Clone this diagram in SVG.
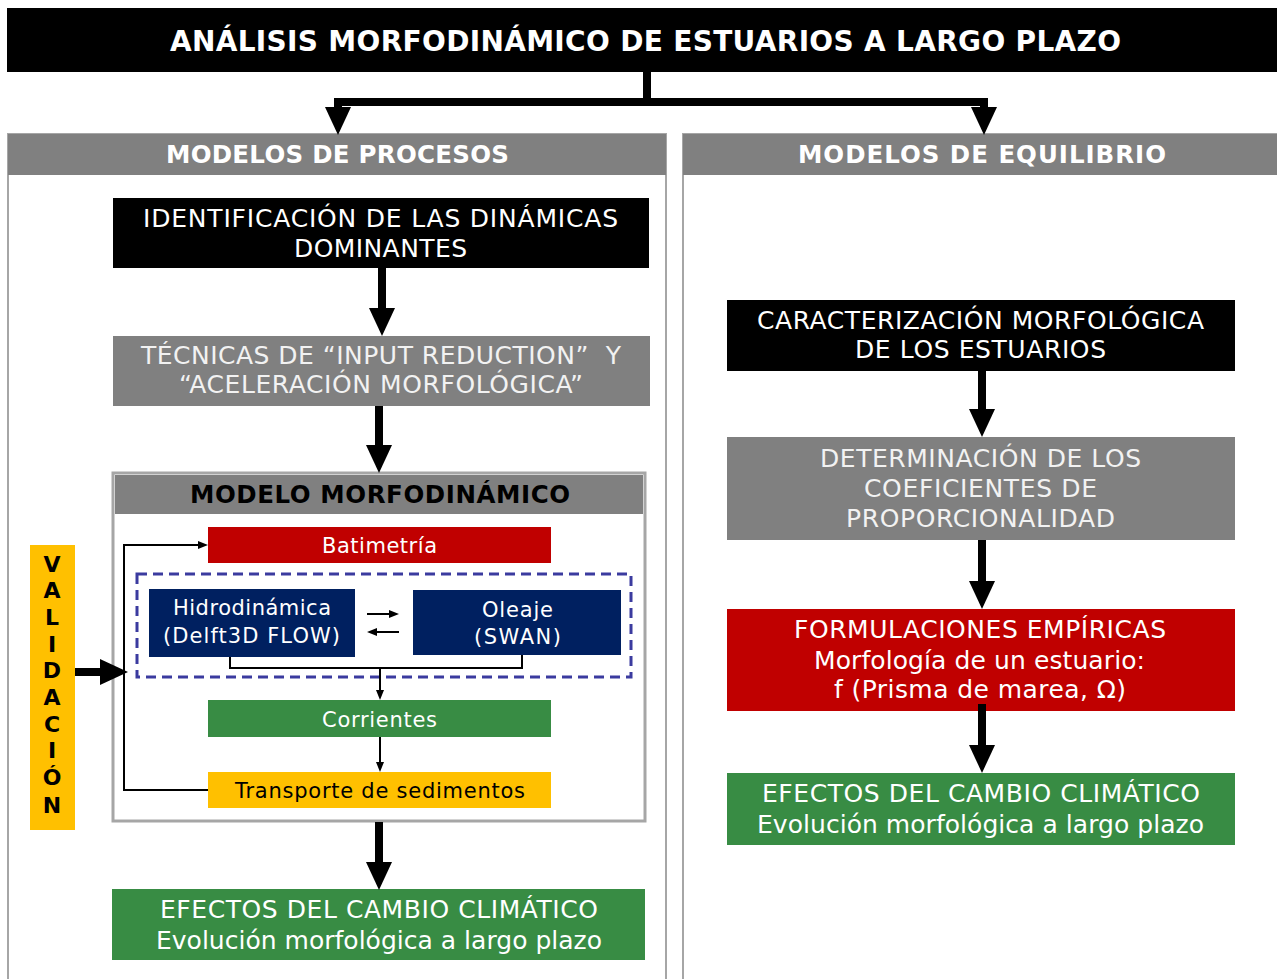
<svg xmlns="http://www.w3.org/2000/svg" width="1277" height="979" viewBox="0 0 1277 979">
<defs>
<style>
text{font-family:"DejaVu Sans","Verdana","Liberation Sans",sans-serif;text-anchor:middle}
.w{fill:#ffffff}
.lt{fill:#f2f2f2}
.k{fill:#000000}
.b{font-weight:bold}
.t24{font-size:25px}
.t20{font-size:21px}
.thick{stroke:#000;stroke-width:8;fill:none}
.thin{stroke:#000;stroke-width:2;fill:none}
</style>
<marker id="ah" viewBox="0 0 28 26" refX="0" refY="13" markerWidth="28" markerHeight="26" markerUnits="userSpaceOnUse" orient="auto">
<path d="M0,0 L28,13 L0,26 z" fill="#000"/>
</marker>
<marker id="as" viewBox="0 0 10 10" refX="0" refY="5" markerWidth="10" markerHeight="10" markerUnits="userSpaceOnUse" orient="auto">
<path d="M0,1 L10,5 L0,9 z" fill="#000"/>
</marker>
</defs>
<rect width="1277" height="979" fill="#ffffff"/>

<g id="title">
<rect x="7" y="8" width="1270" height="64" fill="#000"/>
<text x="645.5" y="51" class="w b" font-size="28" textLength="951" lengthAdjust="spacing">ANÁLISIS MORFODINÁMICO DE ESTUARIOS A LARGO PLAZO</text>
</g>

<g id="panel-procesos">
<rect x="8" y="134" width="658" height="860" fill="#fff" stroke="#a6a6a6" stroke-width="2"/>
<rect x="8" y="134" width="658" height="41" fill="#808080"/>
<text x="337.5" y="163" class="w b" font-size="24.5" textLength="343" lengthAdjust="spacing">MODELOS DE PROCESOS</text>
</g>

<g id="panel-equilibrio">
<rect x="683" y="134" width="610" height="860" fill="#fff" stroke="#a6a6a6" stroke-width="2"/>
<rect x="683" y="134" width="600" height="41" fill="#808080"/>
<text x="982" y="163" class="w b" font-size="24.5" textLength="368" lengthAdjust="spacing">MODELOS DE EQUILIBRIO</text>
</g>

<g id="identificacion">
<rect x="113" y="198" width="536" height="70" fill="#000"/>
<text x="380.5" y="227" class="w t24" textLength="475" lengthAdjust="spacing">IDENTIFICACIÓN DE LAS DINÁMICAS</text>
<text x="380.5" y="257" class="w t24" textLength="173" lengthAdjust="spacing">DOMINANTES</text>
</g>

<g id="tecnicas">
<rect x="113" y="336" width="537" height="70" fill="#808080"/>
<text x="381" y="364" class="lt t24" xml:space="preserve" textLength="480" lengthAdjust="spacing">TÉCNICAS DE “INPUT REDUCTION”  Y</text>
<text x="381" y="393" class="lt t24" textLength="404" lengthAdjust="spacing">“ACELERACIÓN MORFOLÓGICA”</text>
</g>

<g id="modelo-morfodinamico">
<rect x="113" y="473" width="532" height="348" fill="#fff" stroke="#a6a6a6" stroke-width="3"/>
<rect x="115" y="475" width="528" height="39" fill="#808080"/>
<text x="380" y="503" class="k b" font-size="24.5" textLength="380" lengthAdjust="spacing">MODELO MORFODINÁMICO</text>
</g>

<g id="batimetria">
<rect x="208" y="527" width="343" height="36" fill="#c00000"/>
<text x="379.5" y="553" class="w t20" textLength="115" lengthAdjust="spacing">Batimetría</text>
</g>

<g id="acoplamiento">
<rect x="137" y="574" width="494" height="103" fill="none" stroke="#3b3b9f" stroke-width="3" stroke-dasharray="10,6"/>
</g>

<g id="hidrodinamica">
<rect x="149" y="589" width="206" height="68" fill="#002060"/>
<text x="252" y="615" class="w t20" textLength="158" lengthAdjust="spacing">Hidrodinámica</text>
<text x="251.5" y="643" class="w t20" textLength="177" lengthAdjust="spacing">(Delft3D FLOW)</text>
</g>

<g id="oleaje">
<rect x="413" y="590" width="208" height="65" fill="#002060"/>
<text x="517.5" y="617" class="w t20" textLength="71" lengthAdjust="spacing">Oleaje</text>
<text x="517.5" y="644" class="w t20" textLength="87" lengthAdjust="spacing">(SWAN)</text>
</g>

<g id="corrientes">
<rect x="208" y="700" width="343" height="37" fill="#388c44"/>
<text x="379.5" y="727" class="w t20" textLength="115" lengthAdjust="spacing">Corrientes</text>
</g>

<g id="transporte">
<rect x="208" y="772" width="343" height="36" fill="#ffc000"/>
<text x="380" y="798" class="k t20" textLength="290" lengthAdjust="spacing">Transporte de sedimentos</text>
</g>

<g id="validacion">
<rect x="30" y="545" width="45" height="285" fill="#ffc000"/>
<g class="k b" font-size="22">
<text x="52" y="572">V</text>
<text x="52" y="598">A</text>
<text x="52" y="625">L</text>
<text x="52" y="652">I</text>
<text x="52" y="678">D</text>
<text x="52" y="705">A</text>
<text x="52" y="732">C</text>
<text x="52" y="758">I</text>
<text x="52" y="785">Ó</text>
<text x="52" y="813">N</text>
</g>
</g>

<g id="efectos-procesos">
<rect x="112" y="889" width="533" height="71" fill="#388c44"/>
<text x="379" y="918" class="w t24" textLength="438" lengthAdjust="spacing">EFECTOS DEL CAMBIO CLIMÁTICO</text>
<text x="379" y="949" class="w t24" textLength="446" lengthAdjust="spacing">Evolución morfológica a largo plazo</text>
</g>

<g id="caracterizacion">
<rect x="727" y="300" width="508" height="71" fill="#000"/>
<text x="980.5" y="329" class="w t24" textLength="447" lengthAdjust="spacing">CARACTERIZACIÓN MORFOLÓGICA</text>
<text x="980.5" y="358" class="w t24" textLength="251" lengthAdjust="spacing">DE LOS ESTUARIOS</text>
</g>

<g id="determinacion">
<rect x="727" y="437" width="508" height="103" fill="#808080"/>
<text x="980.5" y="467" class="lt t24" textLength="321" lengthAdjust="spacing">DETERMINACIÓN DE LOS</text>
<text x="980.5" y="497" class="lt t24" textLength="233" lengthAdjust="spacing">COEFICIENTES DE</text>
<text x="980.5" y="527" class="lt t24" textLength="269" lengthAdjust="spacing">PROPORCIONALIDAD</text>
</g>

<g id="formulaciones">
<rect x="727" y="609" width="508" height="102" fill="#c00000"/>
<text x="980" y="638" class="w t24" textLength="372" lengthAdjust="spacing">FORMULACIONES EMPÍRICAS</text>
<text x="979.5" y="669" class="w t24" textLength="331" lengthAdjust="spacing">Morfología de un estuario:</text>
<text x="980" y="698" class="w t24" textLength="292" lengthAdjust="spacing">f (Prisma de marea, Ω)</text>
</g>

<g id="efectos-equilibrio">
<rect x="727" y="773" width="508" height="72" fill="#388c44"/>
<text x="981" y="802" class="w t24" textLength="438" lengthAdjust="spacing">EFECTOS DEL CAMBIO CLIMÁTICO</text>
<text x="980.5" y="833" class="w t24" textLength="447" lengthAdjust="spacing">Evolución morfológica a largo plazo</text>
</g>

<g id="connectors">
<path class="thick" d="M647,72 V102"/>
<path class="thick" d="M647,102 H338 V107" marker-end="url(#ah)"/>
<path class="thick" d="M643,102 H984 V107" marker-end="url(#ah)"/>
<path class="thick" d="M382,268 V308" marker-end="url(#ah)"/>
<path class="thick" d="M379,406 V445" marker-end="url(#ah)"/>
<path class="thick" d="M379,822 V862" marker-end="url(#ah)"/>
<path class="thick" d="M75,672 H100" marker-end="url(#ah)" stroke-width="9"/>
<path class="thick" d="M982,371 V409" marker-end="url(#ah)"/>
<path class="thick" d="M982,540 V581" marker-end="url(#ah)"/>
<path class="thick" d="M982,704 V745" marker-end="url(#ah)"/>
<path class="thin" d="M208,790 H124 V545 H198" marker-end="url(#as)"/>
<path class="thin" d="M230,657 V668 H522 V655"/>
<path class="thin" d="M380,668 V690" marker-end="url(#as)"/>
<path class="thin" d="M380,737 V762" marker-end="url(#as)"/>
<path class="thin" d="M367,614 H389" marker-end="url(#as)"/>
<path class="thin" d="M399,632 H377" marker-end="url(#as)"/>
</g>
</svg>
